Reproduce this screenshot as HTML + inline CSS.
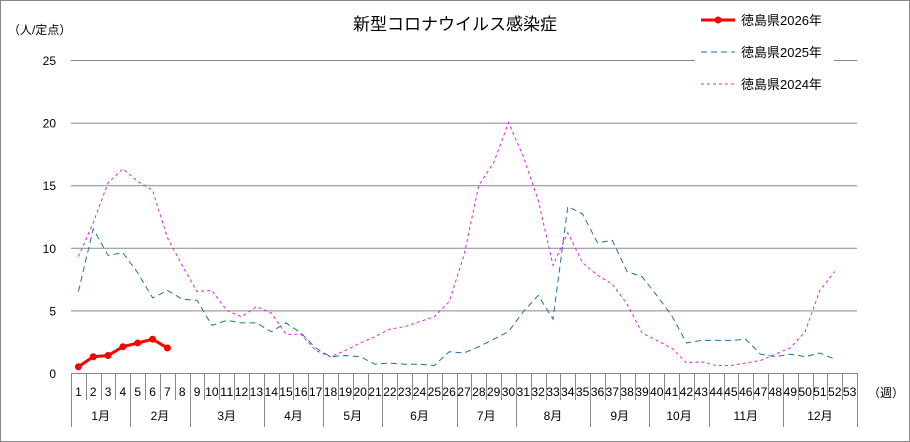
<!DOCTYPE html>
<html><head><meta charset="utf-8"><style>
html,body{margin:0;padding:0;background:#fff;}
svg{display:block;font-family:"Liberation Sans","Noto Sans CJK JP",sans-serif;}
</style></head><body>
<svg id="c" width="910" height="442" viewBox="0 0 910 442" xmlns="http://www.w3.org/2000/svg">
<rect x="0.5" y="0.5" width="909" height="441" fill="#fff" stroke="#888"/>
<text x="455" y="30" font-size="17" text-anchor="middle">新型コロナウイルス感染症</text>
<text x="8" y="34" font-size="12">（人/定点）</text>
<g id="grid"></g>
<g id="axis"></g>
<rect x="695" y="4" width="139" height="94" fill="#fff"/>
<line x1="701" y1="20" x2="735" y2="20" stroke="#f00" stroke-width="3"/>
<circle cx="718" cy="20" r="3.5" fill="#f00"/>
<text x="741" y="25" font-size="13">徳島県2026年</text>
<line x1="701" y1="52" x2="735" y2="52" stroke="#1f6fa8" stroke-width="1" stroke-dasharray="6,4"/>
<text x="741" y="57" font-size="13">徳島県2025年</text>
<line x1="701" y1="84" x2="735" y2="84" stroke="#e020e0" stroke-width="1" stroke-dasharray="3,3"/>
<text x="741" y="89" font-size="13">徳島県2024年</text>
<g id="series"></g>
</svg>
<script>
var NS="http://www.w3.org/2000/svg";
function el(p,t,a,txt){var e=document.createElementNS(NS,t);for(var k in a)e.setAttribute(k,a[k]);if(txt!=null)e.textContent=txt;document.getElementById(p).appendChild(e);return e;}
var L=71,R=857,W=(R-L)/53,Y0=373,S=12.52;
function X(i){return L+(i-0.5)*W;}
function Y(v){return Y0-v*S;}
for(var v=5;v<=25;v+=5){el("grid","line",{x1:L,x2:R,y1:Y(v)+.5,y2:Y(v)+.5,stroke:"#888"});}
for(var v=0;v<=25;v+=5){el("grid","text",{x:56,y:Y(v)+5,"font-size":12,"text-anchor":"end"},String(v));}
el("axis","line",{x1:L,x2:R,y1:Y0+.5,y2:Y0+.5,stroke:"#888"});
for(var i=0;i<=53;i++){var x=Math.round(L+i*W)+.5;el("axis","line",{x1:x,x2:x,y1:Y0,y2:400,stroke:"#888"});}
for(var i=1;i<=53;i++){el("axis","text",{x:X(i),y:396,"font-size":12,"text-anchor":"middle","textLength":i>=10?13.5:"",lengthAdjust:"spacingAndGlyphs"},String(i));}
var months=[[0,4],[4,8],[8,13],[13,17],[17,21],[21,26],[26,30],[30,35],[35,39],[39,43],[43,48],[48,53]];
months.forEach(function(m,k){var x=Math.round(L+m[0]*W)+.5;el("axis","line",{x1:x,x2:x,y1:400,y2:427,stroke:"#888"});
el("axis","text",{x:L+(m[0]+m[1])/2*W,y:420,"font-size":12,"text-anchor":"middle"},(k+1)+"月");});
el("axis","line",{x1:Math.round(R)+.5,x2:Math.round(R)+.5,y1:400,y2:427,stroke:"#888"});
el("axis","text",{x:868,y:397,"font-size":12},"（週）");
function pts(d){return d.map(function(v,i){return X(i+1).toFixed(1)+","+Y(v).toFixed(1);}).join(" ");}
var d24=[9.3,12.0,15.2,16.3,15.3,14.6,10.8,8.6,6.5,6.6,5.0,4.5,5.3,4.8,3.1,3.1,1.8,1.3,1.8,2.4,2.9,3.5,3.7,4.1,4.5,5.7,9.4,15.0,16.8,20.0,17.3,13.8,8.6,11.2,8.8,7.8,7.1,5.5,3.2,2.6,2.0,0.8,0.9,0.6,0.6,0.8,1.0,1.5,2.0,3.3,6.6,8.1];
var d25=[6.5,11.5,9.4,9.6,8.0,6.0,6.6,5.9,5.8,3.8,4.2,4.0,4.0,3.3,4.0,3.2,2.0,1.3,1.4,1.3,0.7,0.8,0.7,0.7,0.6,1.7,1.6,2.1,2.7,3.3,4.9,6.2,4.3,13.3,12.7,10.4,10.6,8.1,7.7,6.2,4.6,2.4,2.6,2.6,2.6,2.7,1.5,1.3,1.5,1.3,1.6,1.1];
var d26=[0.5,1.3,1.4,2.1,2.4,2.7,2.0];
el("series","polyline",{points:pts(d24),fill:"none",stroke:"#e020e0","stroke-width":1,"stroke-dasharray":"3,3"});
el("series","polyline",{points:pts(d25),fill:"none",stroke:"#1f6fa8","stroke-width":1,"stroke-dasharray":"6,4"});
el("series","polyline",{points:pts(d26),fill:"none",stroke:"#f00","stroke-width":3});
d26.forEach(function(v,i){el("series","circle",{cx:X(i+1),cy:Y(v),r:3.5,fill:"#f00"});});
</script>
</body></html>
